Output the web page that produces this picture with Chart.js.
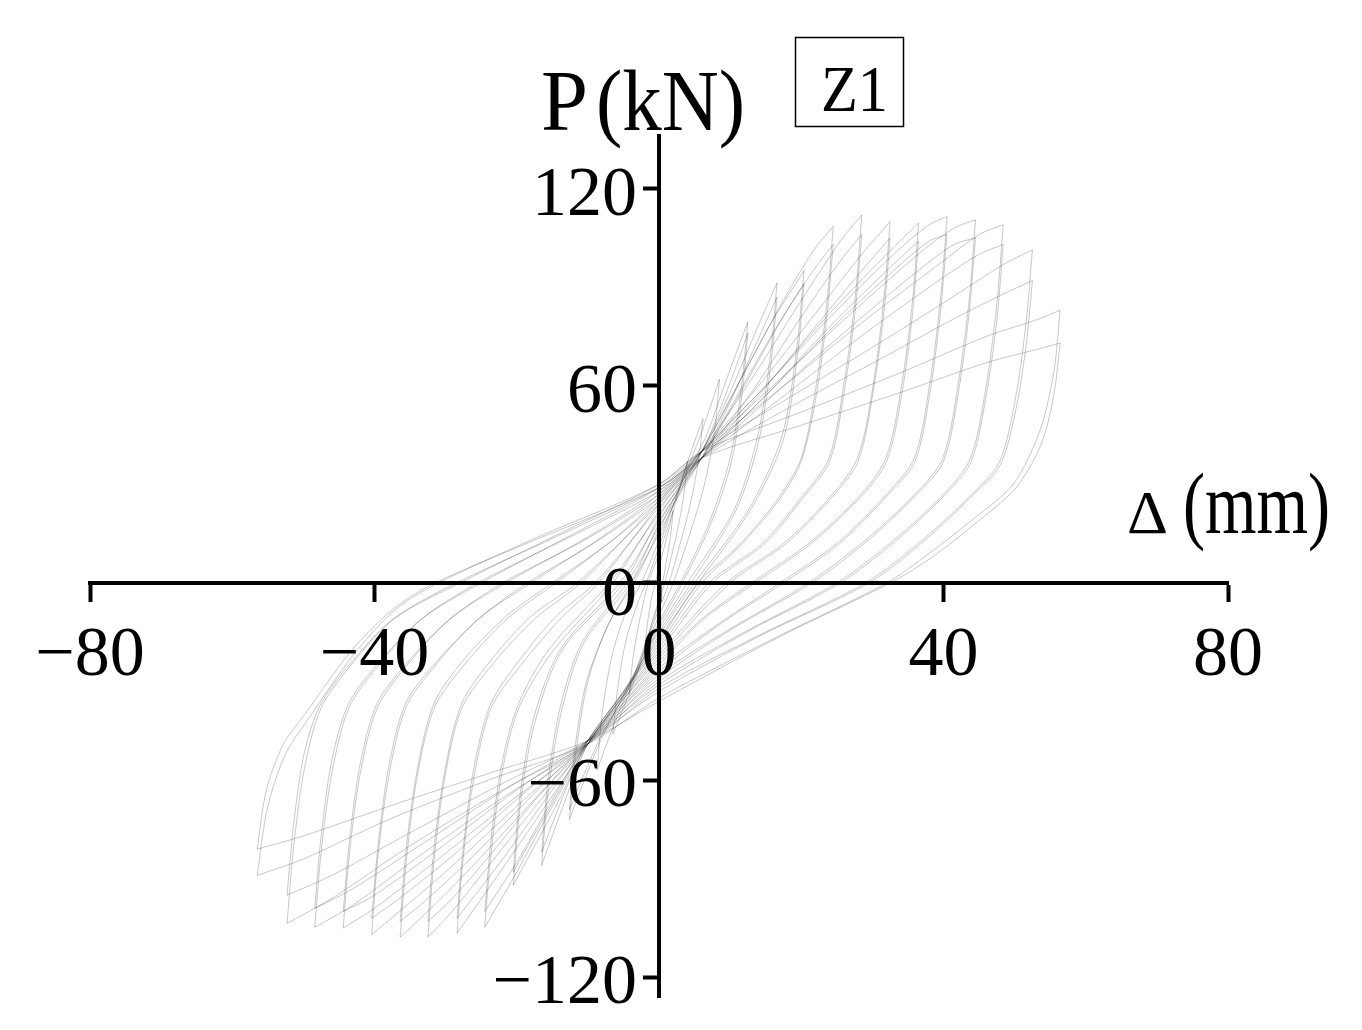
<!DOCTYPE html>
<html>
<head>
<meta charset="utf-8">
<script src="https://cdn.jsdelivr.net/npm/chart.js@4.4.1/dist/chart.umd.min.js"></script>
<style>
html, body { margin: 0; padding: 0; background: #fff; }
#wrap { width: 1362px; height: 1030px; }
</style>
</head>
<body>
<div id="wrap"><canvas id="c" width="1362" height="1030"></canvas></div>
<script>
// Z1 hysteresis: displacement Δ (mm) vs load P (kN)
const xTicks = [-80, -40, 0, 40, 80];
const yTicks = [-120, -60, 0, 60, 120];

// loops: negative peak -> positive peak -> back to negative peak (first cycle at each level)
const loop02 = [[-2.0,-20],[-1.6,-12],[-1.0,-4],[-0.5,0],[0,5],[1.0,13],[2.0,22],
  [1.6,14],[1.0,6],[0.5,0],[0,-5],[-1.0,-12],[-2.0,-20]];
const loop04 = [[-4.2,-34],[-3.6,-22],[-2.6,-10],[-1.5,0],[0,9],[2.0,22],[3.2,31],[4.0,37],
  [3.5,27],[2.6,16],[1.4,5],[0.8,0],[0,-6],[-1.5,-16],[-3.0,-27],[-4.2,-34]];
const loop06 = [[-6.5,-46],[-5.8,-32],[-4.6,-17],[-2.8,-5],[-1.8,0],[0,11],[3.0,30],[5.0,43],[6.2,50],
  [5.6,38],[4.4,24],[2.6,9],[1.4,0],[0,-8],[-2.5,-22],[-4.8,-37],[-6.5,-46]];
const loop08 = [[-8.7,-57],[-8.0,-40],[-6.6,-22],[-4.5,-8],[-2.5,0],[0,13],[3.5,32],[6.0,46],[8.5,62],
  [7.8,46],[6.4,30],[4.2,14],[2.0,0],[0,-10],[-3.5,-28],[-6.5,-44],[-8.7,-57]];
const loop12 = [[-12.6,-72],[-11.7,-52],[-10.0,-30],[-7.0,-12],[-3.5,0],[0,16],[4.0,34],[6.5,44],[9.5,62],[12.5,79.5],
  [11.6,60],[10.0,38],[7.0,18],[3.0,0],[0,-12],[-4.0,-30],[-8.0,-47],[-10.5,-60],[-12.6,-72]];
const loop16 = [[-16.5,-86],[-15.5,-62],[-13.6,-38],[-10.5,-18],[-4.0,0],[0,18],[6.0,40],[10.0,58],[13.5,76],[16.6,91.4],
  [15.6,68],[13.8,44],[10.5,22],[4.0,0],[0,-14],[-5.0,-34],[-10.0,-49],[-13.5,-68],[-16.5,-86]];
const loop20 = [[-20.5,-92],[-19.4,-66],[-17.4,-42],[-13.5,-20],[-5.0,0],[0,20],[6.0,40],[11.0,60],[16.0,80],[20.4,95],
  [19.3,70],[17.2,44],[12.5,22],[5.0,0],[0,-16],[-5.0,-34],[-10.0,-49],[-15.0,-70],[-20.5,-92]];
const loop24 = [[-24.5,-104.8],[-23.6,-82],[-22.1,-58],[-19.7,-38],[-15.0,-21],[-6.5,0],[0,22],[6.0,40],[12.0,64],[18.0,88],[22.0,102],[24.5,108.5],
  [23.6,85],[22.1,60],[20.0,38],[16.5,25],[11.0,11],[5.5,0],[0,-18],[-10.0,-49],[-15.0,-68],[-20.0,-88],[-24.5,-104.8]];
const loop28 = [[-28.4,-106.6],[-27.5,-83],[-26.0,-59],[-23.6,-38],[-19.4,-25],[-13.9,-11],[-8.5,0],[0,24],[6.0,40],[13.0,62],[20.0,86],[25.5,104],[28.5,112],
  [27.6,87],[26.1,62],[23.9,38],[20.0,26],[14.5,12],[7.0,0],[0,-20],[-10.0,-49],[-16.0,-68],[-23.0,-90],[-28.4,-106.6]];
const loop32 = [[-32.5,-107.8],[-31.6,-84],[-30.1,-59],[-27.7,-38],[-23.5,-25],[-17.5,-11],[-11.0,0],[0,25],[6.0,40],[14.0,60],[22.0,82],[28.5,100],[32.5,110],
  [31.6,86],[30.1,60],[27.9,38],[24.0,26],[17.5,12],[9.5,0],[0,-22],[-10.0,-49],[-17.0,-67],[-25.0,-89],[-29.5,-101],[-32.5,-107.8]];
const loop36 = [[-36.4,-107.8],[-35.5,-84],[-34.0,-59],[-31.6,-38],[-27.4,-25],[-21.4,-11],[-14.5,0],[-6.0,14],[0,26],[6.0,40],[15.0,60],[24.0,82],[32.0,100],[36.5,109.5],
  [35.6,85],[34.1,60],[31.9,38],[28.0,26],[21.0,12],[13.0,0],[6.0,-11],[0,-24],[-10.0,-49],[-18.0,-67],[-27.0,-88],[-33.0,-101],[-36.4,-107.8]];
const loop40 = [[-40.4,-107],[-39.5,-83],[-38.0,-59],[-35.6,-38],[-31.4,-25],[-25.4,-11],[-18.0,0],[-8.0,14],[0,27],[6.0,40],[15.0,60],[25.0,83],[34.0,102],[38.0,109],[40.5,111.5],
  [39.6,87],[38.1,61],[35.9,38],[32.0,27],[25.0,12],[17.0,0],[8.0,-13],[0,-26],[-10.0,-49],[-19.0,-66],[-29.0,-86],[-36.5,-100],[-40.4,-107]];
const loop44 = [[-44.4,-105],[-43.5,-82],[-42.0,-58],[-39.6,-38],[-35.4,-25],[-29.4,-11],[-21.5,0],[-10.0,14],[0,28],[6.0,40],[16.0,60],[27.0,82],[37.0,101],[41.5,108],[44.5,110.5],
  [43.6,86],[42.1,61],[39.9,38],[36.0,27],[29.0,13],[21.0,0],[10.0,-14],[0,-28],[-10.0,-49],[-20.0,-65],[-31.0,-84],[-40.0,-99],[-44.4,-105]];
const loop48 = [[-48.4,-104.8],[-47.5,-82],[-46.0,-58],[-43.6,-38],[-39.4,-25],[-33.4,-11],[-25.0,0],[-12.0,15],[0,29],[6.0,40],[17.0,59],[29.0,80],[40.0,98],[45.0,106],[48.4,109],
  [47.5,85],[46.0,60],[43.8,38],[40.0,27],[33.0,13],[25.0,0],[12.0,-15],[0,-30],[-10.0,-49],[-21.0,-64],[-33.0,-82],[-43.0,-98],[-48.4,-104.8]];
const loop52 = [[-52.3,-103.6],[-51.4,-81],[-49.9,-57],[-47.5,-38],[-43.3,-25],[-37.3,-11],[-28.0,0],[-14.0,15],[0,30],[6.0,40],[18.0,56],[31.0,73],[42.0,88],[48.5,97],[52.5,101.4],
  [51.6,79],[50.1,56],[47.9,37],[44.0,27],[37.0,13],[29.0,0],[14.0,-16],[0,-32],[-10.0,-49],[-22.0,-63],[-35.0,-80],[-46.0,-96],[-52.3,-103.6]];
const loop56 = [[-56.5,-89],[-55.0,-68],[-52.5,-52],[-49.5,-42],[-43.0,-22],[-37.0,-8],[-31.0,0],[-17.0,14],[0,30],[6.0,40],[20.0,52],[34.0,64],[46.0,75],[53.0,80],[56.4,83],
  [55.5,64],[53.5,46],[49.8,30],[44.5,20],[38.0,9],[32.0,0],[17.0,-16],[0,-35],[-10.0,-49],[-24.0,-60],[-38.0,-72],[-50.0,-84],[-56.5,-89]];

// repeat cycles at the same level (lower peaks)
const loop12b = [[-12.6,-69],[-11.8,-50],[-10.2,-30],[-7.2,-13],[-3.8,0],[0,15],[4.0,32],[6.5,42],[9.5,58],[12.5,76],
  [11.7,58],[10.2,37],[7.3,18],[3.3,0],[0,-13],[-4.0,-31],[-8.0,-46],[-10.5,-58],[-12.6,-69]];
const loop16b = [[-16.5,-82],[-15.6,-60],[-13.8,-37],[-10.8,-18],[-4.5,0],[0,17],[6.0,38],[10.0,55],[13.5,72],[16.6,87],
  [15.7,66],[14.0,43],[10.8,22],[4.5,0],[0,-15],[-5.0,-33],[-10.0,-48],[-13.5,-65],[-16.5,-82]];
const loop20b = [[-20.5,-88],[-19.5,-64],[-17.6,-41],[-13.8,-20],[-5.5,0],[0,19],[6.0,38],[11.0,57],[16.0,76],[20.4,91],
  [19.4,68],[17.4,43],[12.8,22],[5.5,0],[0,-17],[-5.0,-33],[-10.0,-48],[-15.0,-67],[-20.5,-88]];
const loop24b = [[-24.5,-100],[-23.6,-78],[-22.1,-55],[-19.8,-37],[-15.4,-20],[-7.0,0],[0,21],[6.0,38],[12.0,60],[18.0,83],[22.0,96],[24.5,103],
  [23.6,81],[22.1,57],[20.0,37],[16.8,25],[11.3,11],[6.0,0],[0,-19],[-10.0,-48],[-15.0,-66],[-20.0,-85],[-24.5,-100]];
const loop28b = [[-28.4,-102],[-27.5,-80],[-26.0,-56],[-23.7,-37],[-19.8,-24],[-14.4,-10],[-9.0,0],[0,23],[6.0,38],[13.0,58],[20.0,81],[25.5,98],[28.5,106],
  [27.6,83],[26.1,59],[24.0,37],[20.3,26],[14.9,12],[7.5,0],[0,-21],[-10.0,-48],[-16.0,-66],[-23.0,-87],[-28.4,-102]];
const loop32b = [[-32.5,-103],[-31.6,-80],[-30.1,-57],[-27.8,-37],[-23.8,-24],[-17.9,-10],[-11.5,0],[0,24],[6.0,38],[14.0,57],[22.0,78],[28.5,95],[32.5,105],
  [31.6,82],[30.1,58],[28.0,37],[24.3,26],[17.9,12],[10.0,0],[0,-23],[-10.0,-48],[-17.0,-65],[-25.0,-86],[-29.5,-97],[-32.5,-103]];
const loop36b = [[-36.4,-103],[-35.5,-80],[-34.0,-57],[-31.7,-37],[-27.7,-24],[-21.4,-10],[-15.0,0],[-6.5,13],[0,25],[6.0,38],[15.0,57],[24.0,78],[32.0,95],[36.5,104],
  [35.6,81],[34.1,57],[32.0,37],[28.3,26],[21.4,12],[13.5,0],[6.3,-11],[0,-25],[-10.0,-48],[-18.0,-65],[-27.0,-85],[-33.0,-97],[-36.4,-103]];
const loop40b = [[-40.4,-102],[-39.5,-80],[-38.0,-56],[-35.7,-37],[-31.7,-25],[-25.4,-11],[-18.5,0],[-8.5,13],[0,26],[6.0,38],[15.0,57],[25.0,79],[34.0,97],[38.0,104],[40.5,106],
  [39.6,83],[38.1,58],[36.0,37],[32.3,27],[25.4,12],[17.5,0],[8.3,-13],[0,-27],[-10.0,-48],[-19.0,-64],[-29.0,-83],[-36.5,-96],[-40.4,-102]];
const loop44b = [[-44.4,-100],[-43.5,-78],[-42.0,-55],[-39.7,-37],[-35.7,-25],[-29.4,-11],[-22.0,0],[-10.5,13],[0,27],[6.0,38],[16.0,57],[27.0,78],[37.0,96],[41.5,103],[44.5,105],
  [43.6,82],[42.1,58],[40.0,37],[36.3,27],[29.4,13],[21.5,0],[10.3,-14],[0,-29],[-10.0,-48],[-20.0,-63],[-31.0,-81],[-40.0,-95],[-44.4,-100]];
const loop48b = [[-48.4,-99],[-47.5,-77],[-46.0,-54],[-43.7,-37],[-39.7,-25],[-33.4,-11],[-25.5,0],[-12.5,14],[0,28],[6.0,38],[17.0,56],[29.0,76],[40.0,93],[45.0,100],[48.4,103],
  [47.5,80],[46.0,57],[43.9,37],[40.3,27],[33.4,13],[25.5,0],[12.3,-15],[0,-31],[-10.0,-48],[-21.0,-62],[-33.0,-79],[-43.0,-93],[-48.4,-99]];
const loop52b = [[-52.3,-95],[-51.4,-74],[-49.9,-52],[-47.6,-37],[-43.6,-25],[-37.4,-11],[-28.5,0],[-14.5,14],[0,29],[6.0,38],[18.0,53],[31.0,68],[42.0,81],[48.5,88],[52.5,92],
  [51.6,72],[50.1,52],[48.0,36],[44.3,27],[37.4,13],[29.5,0],[14.3,-16],[0,-33],[-10.0,-48],[-22.0,-61],[-35.0,-76],[-46.0,-89],[-52.3,-95]];
const loop56b = [[-56.5,-81],[-55.2,-63],[-52.8,-49],[-49.8,-40],[-43.4,-21],[-37.4,-8],[-31.5,0],[-17.5,13],[0,29],[6.0,38],[20.0,48],[34.0,58],[46.0,67],[53.0,71],[56.4,73],
  [55.5,57],[53.7,42],[50.2,29],[45.0,19],[38.5,8],[32.5,0],[17.3,-16],[0,-36],[-10.0,-48],[-24.0,-58],[-38.0,-68],[-50.0,-77],[-56.5,-81]];

const loops = [loop02, loop04, loop06, loop08, loop12, loop16, loop20, loop24,
  loop28, loop32, loop36, loop40, loop44, loop48, loop52, loop56,
  loop12b, loop16b, loop20b, loop24b, loop28b, loop32b, loop36b, loop40b,
  loop44b, loop48b, loop52b, loop56b];

function fmt(v) {
  return v < 0 ? '\u2212' + Math.abs(v) : String(v);
}

// split each loop at its positive peak so the tips stay sharp
const datasets = [];
loops.forEach(loop => {
  let k = 0;
  loop.forEach((p, i) => { if (p[0] > loop[k][0]) k = i; });
  [loop.slice(0, k + 1), loop.slice(k)].forEach(part => {
    datasets.push({
      data: part.map(p => ({ x: p[0], y: p[1] })),
      showLine: true,
      borderColor: 'rgba(0,0,0,0.22)',
      borderWidth: 1,
      pointRadius: 0,
      tension: 0.3,
      fill: false
    });
  });
});

function fitText(ctx, s, x, y, size, w) {
  ctx.font = size + 'px "Liberation Serif"';
  const m = ctx.measureText(s).width;
  ctx.save();
  ctx.translate(x, y);
  ctx.scale(w / m, 1);
  ctx.fillText(s, 0, 0);
  ctx.restore();
}

const titles = {
  id: 'titles',
  afterDraw(chart) {
    const ctx = chart.ctx;
    const sx = chart.scales.x, sy = chart.scales.y;
    ctx.save();
    ctx.fillStyle = '#000';
    ctx.strokeStyle = '#000';
    ctx.textBaseline = 'alphabetic';
    ctx.font = '70px "Liberation Serif"';
    ctx.textAlign = 'center';
    xTicks.forEach(v => ctx.fillText(fmt(v), sx.getPixelForValue(v), 675));
    ctx.textAlign = 'right';
    yTicks.forEach(v => ctx.fillText(fmt(v), 637, sy.getPixelForValue(v) + (v === 0 ? 32 : 26)));
    ctx.textAlign = 'left';
    fitText(ctx, 'P', 541, 130, 86, 47);
    fitText(ctx, '(kN)', 596, 130, 86, 149);
    ctx.lineWidth = 1.5;
    ctx.strokeRect(795.5, 37.5, 108, 89);
    fitText(ctx, 'Z1', 821, 111, 66, 67);
    fitText(ctx, '\u0394', 1127, 533, 62, 41);
    fitText(ctx, '(mm)', 1183, 533, 86, 147);
    ctx.restore();
  }
};

new Chart(document.getElementById('c'), {
  type: 'scatter',
  data: { datasets: datasets },
  options: {
    responsive: false,
    animation: false,
    events: [],
    layout: { padding: { left: 90, right: 134, top: 136, bottom: 33 } },
    plugins: { legend: { display: false }, tooltip: { enabled: false } },
    scales: {
      x: {
        type: 'linear', min: -80, max: 80,
        position: { y: 0 },
        afterBuildTicks: s => { s.ticks = xTicks.map(v => ({ value: v })); },
        grid: { drawOnChartArea: false, drawTicks: true, tickLength: 17, tickWidth: 4, tickColor: '#000' },
        border: { display: true, color: '#000', width: 4 },
        ticks: { display: false }
      },
      y: {
        type: 'linear', min: -126, max: 136,
        position: { x: 0 },
        afterBuildTicks: s => { s.ticks = yTicks.map(v => ({ value: v })); },
        grid: { drawOnChartArea: false, drawTicks: true, tickLength: 14, tickWidth: 4, tickColor: '#000' },
        border: { display: true, color: '#000', width: 4 },
        ticks: { display: false }
      }
    }
  },
  plugins: [titles]
});
</script>
</body>
</html>
